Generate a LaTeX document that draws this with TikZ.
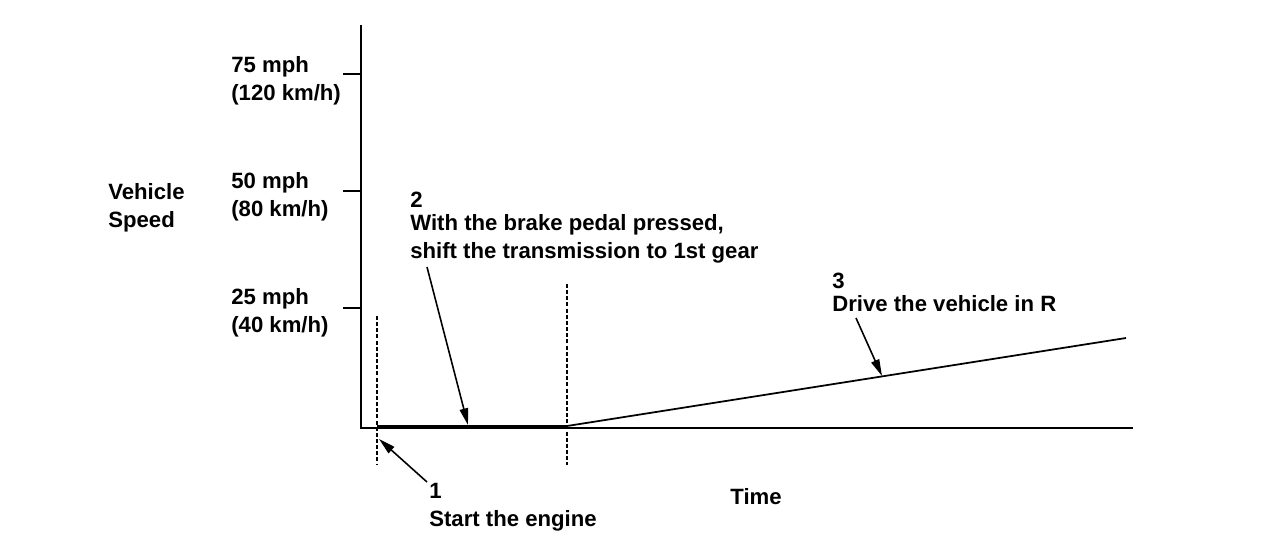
\documentclass[tikz,border=0pt]{standalone}
\usepackage{fontspec}
\setmainfont{Liberation Sans}
\usetikzlibrary{arrows.meta}
\begin{document}
\begin{tikzpicture}[x=0.02cm,y=-0.02cm,
  lbl/.style={anchor=north west,align=left,font=\bfseries\fontsize{12.6}{15.9}\selectfont},
  guide/.style={black,line width=1pt,dash pattern=on 2.3pt off 1.2pt},
  callout/.style={black,line width=0.9pt,-{Triangle[length=9.5pt,width=4.8pt]}}]
\tikzstyle{every node}+=[inner sep=0pt]
\useasboundingbox (0,0) rectangle (1280,548);
% axes
\coordinate (top) at (361,25);
\coordinate (o) at (361,428);
\coordinate (right) at (1133,428);
\draw [black,line width=1.1pt] (top) -- (o) -- (right);
\foreach \y/\n in {74/t75,191/t50,308/t25}{
  \coordinate (\n) at (361,\y);
  \draw [black,line width=1pt] (\n) -- +(-18,0);
}
\node [lbl] (v75) at (231,56) {75 mph\\(120 km/h)};
\node [lbl] (v50) at (231,172) {50 mph\\(80 km/h)};
\node [lbl] (v25) at (231,288) {25 mph\\(40 km/h)};
\node [lbl] (ylab) at (108,183) {Vehicle\\Speed};
\node [lbl,anchor=center] (xlab) at (756,497) {Time};
% speed curve
\coordinate (s0) at (377,426);
\coordinate (s1) at (567,426);
\coordinate (s2) at (1126,338);
\draw [black,line width=1.3pt] (s0) -- (s1);
\draw [black,line width=1pt] (s1) -- (s2);
% dotted guides
\coordinate (g1a) at (377,316);
\coordinate (g1b) at (377,465);
\coordinate (g2a) at (567,284);
\coordinate (g2b) at (567,465);
\draw [guide] (g1a) -- (g1b);
\draw [guide] (g2a) -- (g2b);
% callouts
\node [lbl] (step1) at (429,483) {1\\Start the engine};
\node [lbl] (step2) at (410,192) {2\\[-2.9pt]With the brake pedal pressed,\\shift the transmission to 1st gear};
\node [lbl] (step3) at (832,273) {3\\[-2.9pt]Drive the vehicle in R};
\coordinate (a1) at (427,482);
\coordinate (b1) at (379,439);
\coordinate (a2) at (427,267);
\coordinate (b2) at (468,425);
\coordinate (a3) at (856,318);
\coordinate (b3) at (882,376);
\draw [callout] (a1) -- (b1);
\draw [callout] (a2) -- (b2);
\draw [callout] (a3) -- (b3);
\end{tikzpicture}
\end{document}
